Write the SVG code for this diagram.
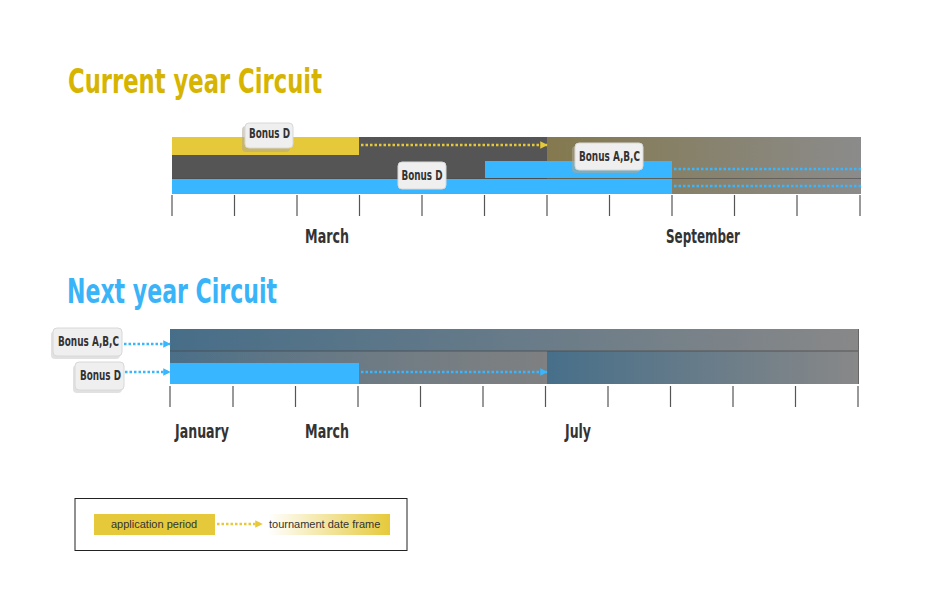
<svg xmlns="http://www.w3.org/2000/svg" width="940" height="614" viewBox="0 0 940 614">
<style>
.title{font-family:"DejaVu Sans Condensed","DejaVu Sans",sans-serif;font-weight:bold;font-stretch:condensed;font-size:33px}
.month{font-family:"DejaVu Sans Condensed","DejaVu Sans",sans-serif;font-weight:bold;font-stretch:condensed;font-size:20px;fill:#333}
.call{font-family:"DejaVu Sans Condensed","DejaVu Sans",sans-serif;font-weight:bold;font-stretch:condensed;font-size:14px;fill:#333}
.box{fill:#efefef;stroke:#d8d8d8;stroke-width:1}
.shadow{fill:#b0a890;opacity:0.55}
.tick{stroke:#555;stroke-width:1.2}
.dotY{stroke:#e6c93a;stroke-width:2.5;stroke-dasharray:2.5 2;fill:none}
.dotB{stroke:#38b6ff;stroke-width:2.5;stroke-dasharray:2.5 2;fill:none}
.leg{font-family:"Liberation Sans",Arial,sans-serif;font-size:11px;fill:#333}
</style>
<defs>
<linearGradient id="olive" x1="0" x2="1" y1="0" y2="0">
<stop offset="0" stop-color="#84794e"/><stop offset="1" stop-color="#8b8b8b"/>
</linearGradient>
<linearGradient id="bluegray" x1="0" x2="1" y1="0" y2="0">
<stop offset="0" stop-color="#476e88"/><stop offset="1" stop-color="#888888"/>
</linearGradient>
<linearGradient id="bluegray2" x1="0" x2="1" y1="0" y2="0">
<stop offset="0" stop-color="#476f8a"/><stop offset="1" stop-color="#888888"/>
</linearGradient>
<linearGradient id="rowgray" x1="0" x2="1" y1="0" y2="0">
<stop offset="0" stop-color="#808080" stop-opacity="0.05"/><stop offset="1" stop-color="#808080" stop-opacity="0.9"/>
</linearGradient>
<linearGradient id="legGrad" x1="0" x2="1" y1="0" y2="0">
<stop offset="0" stop-color="#ffffff"/><stop offset="1" stop-color="#e6c93a"/>
</linearGradient>
<marker id="arrY" viewBox="0 0 10 10" refX="9" refY="5" markerWidth="3" markerHeight="3" orient="auto" markerUnits="strokeWidth">
<path d="M0,0 L10,5 L0,10 z" fill="#e6c93a"/>
</marker>
<marker id="arrB" viewBox="0 0 10 10" refX="9" refY="5" markerWidth="3" markerHeight="3" orient="auto" markerUnits="strokeWidth">
<path d="M0,0 L10,5 L0,10 z" fill="#38b6ff"/>
</marker>
</defs>
<rect width="940" height="614" fill="#ffffff"/>

<text class="title" x="68" y="93" fill="#d6b400" textLength="254" lengthAdjust="spacingAndGlyphs">Current year Circuit</text>
<text class="title" x="67" y="303" fill="#3ab4f8" textLength="210" lengthAdjust="spacingAndGlyphs">Next year Circuit</text>

<!-- Current year timeline -->
<g id="current-bars">
<rect x="172" y="137" width="375" height="57" fill="#555555"/>
<rect x="547" y="137" width="314" height="57" fill="url(#olive)"/>
<rect x="172" y="137" width="187" height="18" fill="#e6c93a"/>
<rect x="485" y="161" width="187" height="17" fill="#38b6ff"/>
<line x1="172" y1="178.5" x2="861" y2="178.5" stroke="#4a4a4a" stroke-width="1" opacity="0.6"/>
<rect x="172" y="179" width="500" height="15" fill="#38b6ff"/>
</g>
<g id="current-ticks">
<line class="tick" x1="172" y1="195" x2="172" y2="216"/>
<line class="tick" x1="234.5" y1="195" x2="234.5" y2="216"/>
<line class="tick" x1="297" y1="195" x2="297" y2="216"/>
<line class="tick" x1="359.5" y1="195" x2="359.5" y2="216"/>
<line class="tick" x1="422" y1="195" x2="422" y2="216"/>
<line class="tick" x1="484.5" y1="195" x2="484.5" y2="216"/>
<line class="tick" x1="547" y1="195" x2="547" y2="216"/>
<line class="tick" x1="609.5" y1="195" x2="609.5" y2="216"/>
<line class="tick" x1="672" y1="195" x2="672" y2="216"/>
<line class="tick" x1="734.5" y1="195" x2="734.5" y2="216"/>
<line class="tick" x1="797" y1="195" x2="797" y2="216"/>
<line class="tick" x1="860" y1="195" x2="860" y2="216"/>
</g>
<g id="current-connectors">
<line class="dotY" x1="361" y1="145" x2="547" y2="145" marker-end="url(#arrY)"/>
<line class="dotB" x1="674" y1="169" x2="861" y2="169"/>
<line class="dotB" x1="674" y1="186" x2="861" y2="186"/>
</g>
<g id="current-bonusD-top">
<rect class="shadow" x="242" y="126" width="48" height="26" rx="4"/>
<rect class="box" x="245" y="123" width="48" height="25" rx="4"/>
<text class="call" x="249" y="137.5" textLength="41" lengthAdjust="spacingAndGlyphs">Bonus D</text>
</g>
<g id="current-bonusABC">
<rect class="shadow" x="572" y="146" width="68" height="27" rx="4"/>
<rect class="box" x="575" y="143" width="68" height="27" rx="4"/>
<text class="call" x="579" y="160.5" textLength="61" lengthAdjust="spacingAndGlyphs">Bonus A,B,C</text>
</g>
<g id="current-bonusD-bottom">
<rect class="box" x="398" y="162" width="48" height="27" rx="4"/>
<text class="call" x="401.5" y="179.5" textLength="41" lengthAdjust="spacingAndGlyphs">Bonus D</text>
</g>
<text class="month" x="305" y="243" textLength="44" lengthAdjust="spacingAndGlyphs">March</text>
<text class="month" x="666" y="243" textLength="74" lengthAdjust="spacingAndGlyphs">September</text>

<!-- Next year timeline -->
<g id="next-bars">
<rect x="170" y="329" width="689" height="55" fill="url(#bluegray)"/>
<rect x="170" y="351" width="377" height="33" fill="url(#rowgray)"/>
<rect x="547" y="351" width="312" height="33" fill="url(#bluegray2)"/>
<line x1="170" y1="351" x2="859" y2="351" stroke="#4a4a4a" stroke-width="1.2" opacity="0.8"/>
<line x1="858.5" y1="329" x2="858.5" y2="384" stroke="#666" stroke-width="1"/>
<rect x="170" y="363" width="189" height="21" fill="#38b6ff"/>
</g>
<g id="next-ticks">
<line class="tick" x1="170" y1="386" x2="170" y2="407"/>
<line class="tick" x1="233" y1="386" x2="233" y2="407"/>
<line class="tick" x1="295.5" y1="386" x2="295.5" y2="407"/>
<line class="tick" x1="358" y1="386" x2="358" y2="407"/>
<line class="tick" x1="420.5" y1="386" x2="420.5" y2="407"/>
<line class="tick" x1="483" y1="386" x2="483" y2="407"/>
<line class="tick" x1="545.5" y1="386" x2="545.5" y2="407"/>
<line class="tick" x1="608" y1="386" x2="608" y2="407"/>
<line class="tick" x1="670.5" y1="386" x2="670.5" y2="407"/>
<line class="tick" x1="733" y1="386" x2="733" y2="407"/>
<line class="tick" x1="795.5" y1="386" x2="795.5" y2="407"/>
<line class="tick" x1="858" y1="386" x2="858" y2="407"/>
</g>
<g id="next-connectors">
<line class="dotB" x1="124" y1="344" x2="170" y2="344" marker-end="url(#arrB)"/>
<line class="dotB" x1="125" y1="372" x2="170" y2="372" marker-end="url(#arrB)"/>
<line class="dotB" x1="361" y1="372" x2="547" y2="372" marker-end="url(#arrB)"/>
</g>
<g id="next-bonusABC">
<rect class="shadow" x="51" y="331" width="69" height="28" rx="4" style="fill:#c8c8c8"/>
<rect class="box" x="53" y="328" width="69" height="28" rx="4"/>
<text class="call" x="58" y="345.5" textLength="61" lengthAdjust="spacingAndGlyphs">Bonus A,B,C</text>
</g>
<g id="next-bonusD">
<rect class="shadow" x="73" y="365" width="49" height="28" rx="4" style="fill:#c8c8c8"/>
<rect class="box" x="75" y="362" width="49" height="28" rx="4"/>
<text class="call" x="80" y="379.5" textLength="41" lengthAdjust="spacingAndGlyphs">Bonus D</text>
</g>
<text class="month" x="175" y="438" textLength="54" lengthAdjust="spacingAndGlyphs">January</text>
<text class="month" x="305" y="438" textLength="44" lengthAdjust="spacingAndGlyphs">March</text>
<text class="month" x="565" y="438" textLength="26" lengthAdjust="spacingAndGlyphs">July</text>

<!-- Legend -->
<g id="legend">
<rect x="75" y="498.5" width="332" height="52" fill="#ffffff" stroke="#222" stroke-width="1"/>
<rect x="94" y="514" width="121" height="21" fill="#e6c93a"/>
<text class="leg" x="111" y="527.5">application period</text>
<line class="dotY" x1="217" y1="524" x2="262" y2="524" marker-end="url(#arrY)"/>
<rect x="268" y="514" width="122" height="21" fill="url(#legGrad)"/>
<text class="leg" x="269" y="527.5">tournament date frame</text>
</g>
</svg>
